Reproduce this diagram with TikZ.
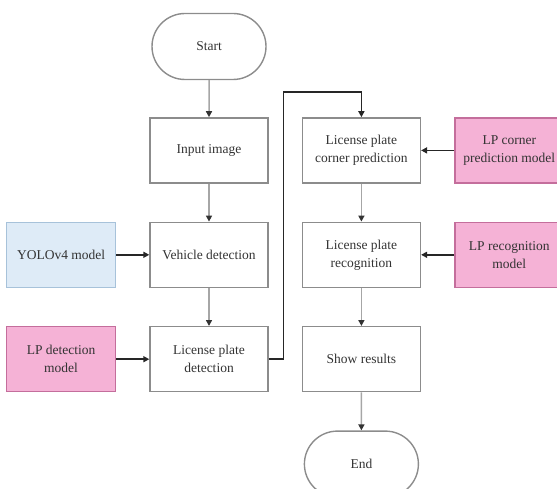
\documentclass[tikz,border=0pt]{standalone}
\usepackage{fontspec}
\setmainfont{Liberation Serif}
\usepackage{tikz}
\usetikzlibrary{arrows.meta,calc,positioning,shapes.misc}
\definecolor{boxline}{HTML}{8C8C8C}
\definecolor{flowline}{HTML}{A6A6A6}
\definecolor{yoloblue}{HTML}{DEEBF7}
\definecolor{yololine}{HTML}{A7C2DA}
\definecolor{lppink}{HTML}{F5B2D6}
\definecolor{lpline}{HTML}{C46E9C}
\tikzset{
	step box/.style={draw=boxline, line width=1.4pt, minimum width=118pt, minimum height=65pt,
		align=center, text=black!80, font=\fontsize{13.5}{18}\selectfont, inner sep=2pt},
	term box/.style={step box, rounded rectangle, minimum height=66pt},
	model box/.style={step box, minimum width=109pt, fill=lppink, draw=lpline},
	yolo box/.style={model box, fill=yoloblue, draw=yololine},
	down/.style={draw=flowline, line width=1.5pt, -{Triangle[length=6pt,width=6pt,color=black!80]}},
	feed/.style={draw=black!85, line width=1.5pt, -{Triangle[length=6pt,width=6pt]}}
}
\begin{document}
\begin{tikzpicture}[x=1pt, y=1pt, node distance=38pt and 33pt]
	\clip (0,0) rectangle (557,-489);
	\node[term box] (S) at (209,-46.5) {Start};
	\node[step box, below=37pt of S] (A1) {Input image};
	\node[step box, below=of A1] (A2) {Vehicle detection};
	\node[step box, below=of A2] (A3) {License plate\\detection};
	\node[step box, right=of A1] (B1) {License plate\\corner prediction};
	\node[step box, below=of B1] (B2) {License plate\\recognition};
	\node[step box, below=of B2] (B3) {Show results};
	\node[term box, below=of B3] (E) {End};
	\node[yolo box, left=of A2] (M1) {YOLOv4 model};
	\node[model box, left=of A3] (M2) {LP detection\\model};
	\node[model box, right=of B1] (M3) {LP corner\\prediction model};
	\node[model box, right=of B2] (M4) {LP recognition\\model};
	% main flow
	\draw[down] (S) -- (A1);
	\draw[down] (A1) -- (A2);
	\draw[down] (A2) -- (A3);
	\draw[down] (B1) -- (B2);
	\draw[down] (B2) -- (B3);
	\draw[down] (B3) -- (E);
	\draw[feed] (A3.east) -- ++(15,0) |- ([yshift=25pt]B1.north) -- (B1.north);
	% models
	\draw[feed] (M1) -- (A2);
	\draw[feed] (M2) -- (A3);
	\draw[feed] (M3) -- (B1);
	\draw[feed] (M4) -- (B2);
\end{tikzpicture}
\end{document}
